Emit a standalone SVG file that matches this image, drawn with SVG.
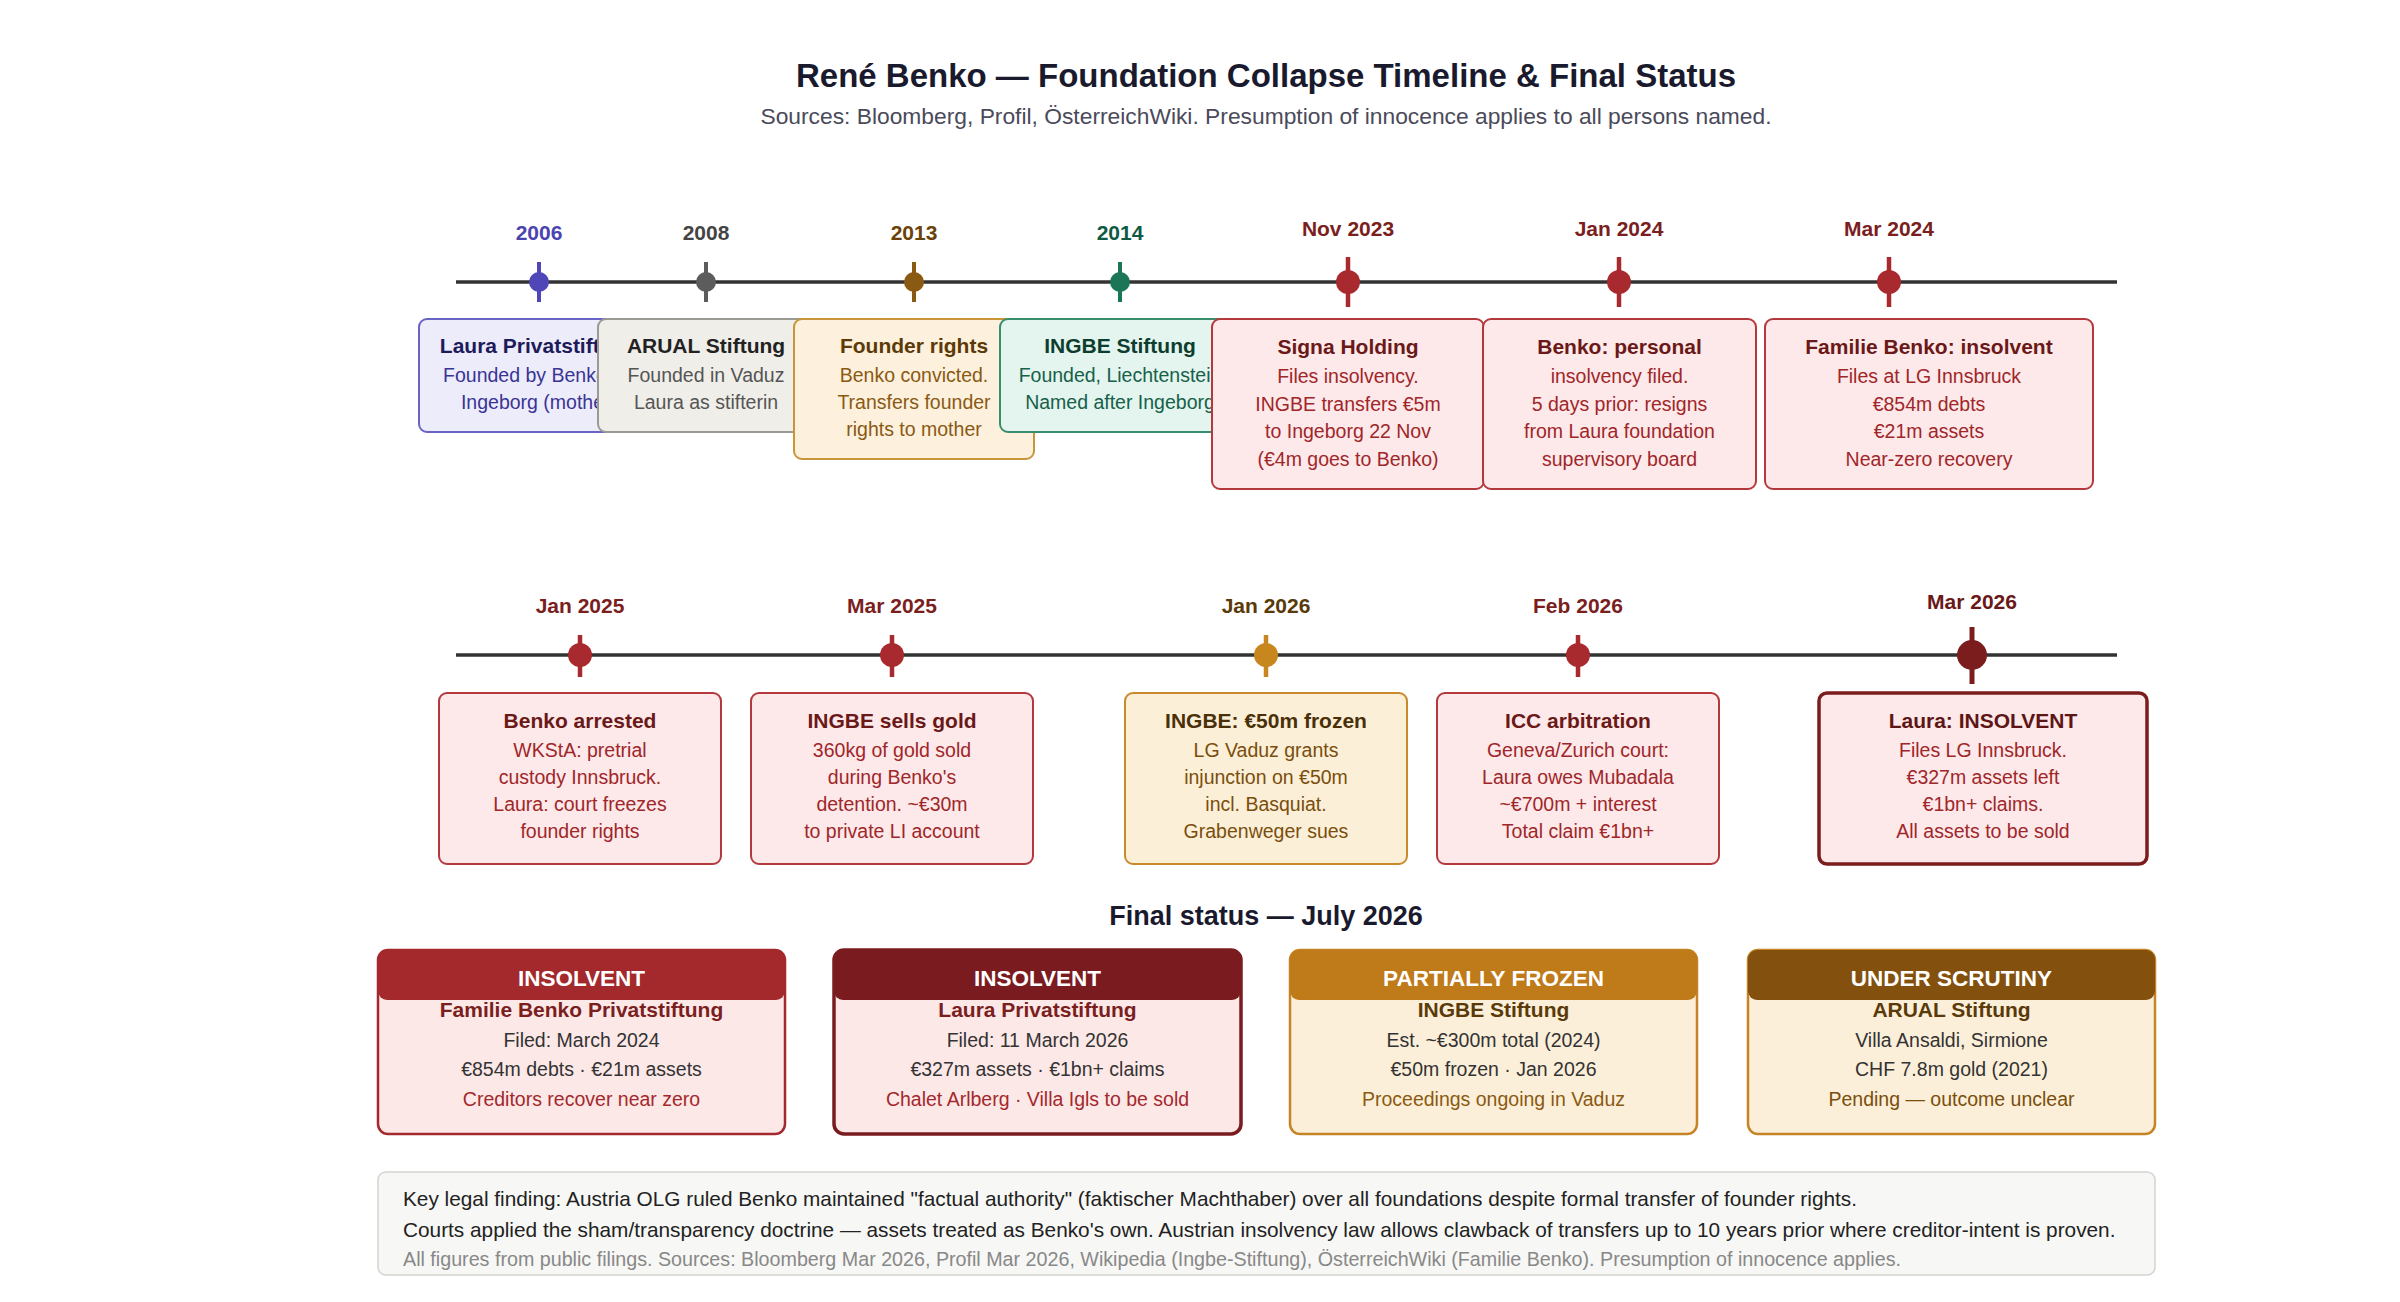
<svg xmlns="http://www.w3.org/2000/svg" width="2400" height="1302" viewBox="0 0 2400 1302">
<style>
text{font-family:"Liberation Sans",Arial,sans-serif}
.c{text-anchor:middle}
.h1{font-size:33px;font-weight:bold;fill:#1a1a2e}
.sub{font-size:22.8px;fill:#4a4a5a}
.yl{font-size:21px;font-weight:bold}
.bt{font-size:21px;font-weight:bold}
.bd{font-size:19.5px}
.hd{font-size:22.5px;font-weight:bold;fill:#fff}
.sec{font-size:27px;font-weight:bold;fill:#1a1a2e}
.axis{stroke:#333;stroke-width:3.5}
.box{stroke-width:2}
.note{font-size:20.8px}
.note3{font-size:19.7px}
</style>
<rect width="2400" height="1302" fill="#fff"/>
<text class="h1 c" x="1266" y="87">René Benko — Foundation Collapse Timeline &amp; Final Status</text>
<text class="sub c" x="1266" y="124">Sources: Bloomberg, Profil, ÖsterreichWiki. Presumption of innocence applies to all persons named.</text>

<g id="connectors">
<line class="axis" x1="456" y1="282" x2="2117" y2="282"/>
<line class="axis" x1="456" y1="655" x2="2117" y2="655"/>
</g>

<!-- Row 1 markers -->
<g id="m2006"><text class="yl c" x="539" y="240" fill="#4b44b0">2006</text><line x1="539" y1="262" x2="539" y2="302" stroke="#4f46b8" stroke-width="4"/><circle cx="539" cy="282" r="10" fill="#4f46b8"/></g>
<g id="m2008"><text class="yl c" x="706" y="240" fill="#444">2008</text><line x1="706" y1="262" x2="706" y2="302" stroke="#5c5c5c" stroke-width="4"/><circle cx="706" cy="282" r="10" fill="#5c5c5c"/></g>
<g id="m2013"><text class="yl c" x="914" y="240" fill="#6b4208">2013</text><line x1="914" y1="262" x2="914" y2="302" stroke="#8b5a12" stroke-width="4"/><circle cx="914" cy="282" r="10" fill="#8b5a12"/></g>
<g id="m2014"><text class="yl c" x="1120" y="240" fill="#0f5a43">2014</text><line x1="1120" y1="262" x2="1120" y2="302" stroke="#1b7557" stroke-width="4"/><circle cx="1120" cy="282" r="10" fill="#1b7557"/></g>
<g id="mNov2023"><text class="yl c" x="1348" y="236" fill="#7a1e1e">Nov 2023</text><line x1="1348" y1="257" x2="1348" y2="307" stroke="#a8292e" stroke-width="4.5"/><circle cx="1348" cy="282" r="12" fill="#a8292e"/></g>
<g id="mJan2024"><text class="yl c" x="1619" y="236" fill="#7a1e1e">Jan 2024</text><line x1="1619" y1="257" x2="1619" y2="307" stroke="#a8292e" stroke-width="4.5"/><circle cx="1619" cy="282" r="12" fill="#a8292e"/></g>
<g id="mMar2024"><text class="yl c" x="1889" y="236" fill="#7a1e1e">Mar 2024</text><line x1="1889" y1="257" x2="1889" y2="307" stroke="#a8292e" stroke-width="4.5"/><circle cx="1889" cy="282" r="12" fill="#a8292e"/></g>

<!-- Row 1 boxes -->
<g id="laura2006">
<rect class="box" x="419" y="319" width="240" height="113" rx="8" fill="#ececfb" stroke="#6a63c6"/>
<text class="bt c" x="539" y="353" fill="#1e1b5a">Laura Privatstiftung</text>
<text class="bd c" x="539" y="382" fill="#3a3494">Founded by Benko for</text>
<text class="bd c" x="539" y="409" fill="#3a3494">Ingeborg (mother)</text>
</g>
<g id="arual2008">
<rect class="box" x="598" y="319" width="216" height="113" rx="8" fill="#f0eee9" stroke="#9a9994"/>
<text class="bt c" x="706" y="353" fill="#222">ARUAL Stiftung</text>
<text class="bd c" x="706" y="382" fill="#555">Founded in Vaduz</text>
<text class="bd c" x="706" y="409" fill="#555">Laura as stifterin</text>
</g>
<g id="founder2013">
<rect class="box" x="794" y="319" width="240" height="140" rx="8" fill="#fdf0dc" stroke="#c9953a"/>
<text class="bt c" x="914" y="353" fill="#5c3a08">Founder rights</text>
<text class="bd c" x="914" y="382" fill="#8a5a14">Benko convicted.</text>
<text class="bd c" x="914" y="409" fill="#8a5a14">Transfers founder</text>
<text class="bd c" x="914" y="436" fill="#8a5a14">rights to mother</text>
</g>
<g id="ingbe2014">
<rect class="box" x="1000" y="319" width="240" height="113" rx="8" fill="#e3f5ee" stroke="#3a8d6c"/>
<text class="bt c" x="1120" y="353" fill="#0d3d2e">INGBE Stiftung</text>
<text class="bd c" x="1120" y="382" fill="#17604a">Founded, Liechtenstein</text>
<text class="bd c" x="1120" y="409" fill="#17604a">Named after Ingeborg</text>
</g>
<g id="signa2023">
<rect class="box" x="1212" y="319" width="272" height="170" rx="8" fill="#fde9e9" stroke="#b3393d"/>
<text class="bt c" x="1348" y="354" fill="#6a1818">Signa Holding</text>
<text class="bd c" x="1348" y="383" fill="#a0262a">Files insolvency.</text>
<text class="bd c" x="1348" y="410.5" fill="#a0262a">INGBE transfers €5m</text>
<text class="bd c" x="1348" y="438" fill="#a0262a">to Ingeborg 22 Nov</text>
<text class="bd c" x="1348" y="465.5" fill="#a0262a">(€4m goes to Benko)</text>
</g>
<g id="benko2024">
<rect class="box" x="1483" y="319" width="273" height="170" rx="8" fill="#fde9e9" stroke="#b3393d"/>
<text class="bt c" x="1619.5" y="354" fill="#6a1818">Benko: personal</text>
<text class="bd c" x="1619.5" y="383" fill="#a0262a">insolvency filed.</text>
<text class="bd c" x="1619.5" y="410.5" fill="#a0262a">5 days prior: resigns</text>
<text class="bd c" x="1619.5" y="438" fill="#a0262a">from Laura foundation</text>
<text class="bd c" x="1619.5" y="465.5" fill="#a0262a">supervisory board</text>
</g>
<g id="familie2024">
<rect class="box" x="1765" y="319" width="328" height="170" rx="8" fill="#fde9e9" stroke="#b3393d"/>
<text class="bt c" x="1929" y="354" fill="#6a1818">Familie Benko: insolvent</text>
<text class="bd c" x="1929" y="383" fill="#a0262a">Files at LG Innsbruck</text>
<text class="bd c" x="1929" y="410.5" fill="#a0262a">€854m debts</text>
<text class="bd c" x="1929" y="438" fill="#a0262a">€21m assets</text>
<text class="bd c" x="1929" y="465.5" fill="#a0262a">Near-zero recovery</text>
</g>

<!-- Row 2 markers -->
<g id="mJan2025"><text class="yl c" x="580" y="613" fill="#7a1e1e">Jan 2025</text><line x1="580" y1="635" x2="580" y2="677" stroke="#a8292e" stroke-width="4.5"/><circle cx="580" cy="655" r="12" fill="#a8292e"/></g>
<g id="mMar2025"><text class="yl c" x="892" y="613" fill="#7a1e1e">Mar 2025</text><line x1="892" y1="635" x2="892" y2="677" stroke="#a8292e" stroke-width="4.5"/><circle cx="892" cy="655" r="12" fill="#a8292e"/></g>
<g id="mJan2026"><text class="yl c" x="1266" y="613" fill="#5a3a08">Jan 2026</text><line x1="1266" y1="635" x2="1266" y2="677" stroke="#c8861e" stroke-width="4.5"/><circle cx="1266" cy="655" r="12" fill="#c8861e"/></g>
<g id="mFeb2026"><text class="yl c" x="1578" y="613" fill="#7a1e1e">Feb 2026</text><line x1="1578" y1="635" x2="1578" y2="677" stroke="#a8292e" stroke-width="4.5"/><circle cx="1578" cy="655" r="12" fill="#a8292e"/></g>
<g id="mMar2026"><text class="yl c" x="1972" y="609" fill="#6a1818">Mar 2026</text><line x1="1972" y1="627" x2="1972" y2="684" stroke="#7b1d1d" stroke-width="5"/><circle cx="1972" cy="655" r="15" fill="#7b1d1d"/></g>

<!-- Row 2 boxes -->
<g id="arrested2025">
<rect class="box" x="439" y="693" width="282" height="171" rx="8" fill="#fde9e9" stroke="#b3393d"/>
<text class="bt c" x="580" y="728" fill="#6a1818">Benko arrested</text>
<text class="bd c" x="580" y="757" fill="#a0262a">WKStA: pretrial</text>
<text class="bd c" x="580" y="784" fill="#a0262a">custody Innsbruck.</text>
<text class="bd c" x="580" y="811" fill="#a0262a">Laura: court freezes</text>
<text class="bd c" x="580" y="838" fill="#a0262a">founder rights</text>
</g>
<g id="gold2025">
<rect class="box" x="751" y="693" width="282" height="171" rx="8" fill="#fde9e9" stroke="#b3393d"/>
<text class="bt c" x="892" y="728" fill="#6a1818">INGBE sells gold</text>
<text class="bd c" x="892" y="757" fill="#a0262a">360kg of gold sold</text>
<text class="bd c" x="892" y="784" fill="#a0262a">during Benko's</text>
<text class="bd c" x="892" y="811" fill="#a0262a">detention. ~€30m</text>
<text class="bd c" x="892" y="838" fill="#a0262a">to private LI account</text>
</g>
<g id="frozen2026">
<rect class="box" x="1125" y="693" width="282" height="171" rx="8" fill="#fcefd8" stroke="#c98a2c"/>
<text class="bt c" x="1266" y="728" fill="#4a3008">INGBE: €50m frozen</text>
<text class="bd c" x="1266" y="757" fill="#7a4e0c">LG Vaduz grants</text>
<text class="bd c" x="1266" y="784" fill="#7a4e0c">injunction on €50m</text>
<text class="bd c" x="1266" y="811" fill="#7a4e0c">incl. Basquiat.</text>
<text class="bd c" x="1266" y="838" fill="#7a4e0c">Grabenweger sues</text>
</g>
<g id="icc2026">
<rect class="box" x="1437" y="693" width="282" height="171" rx="8" fill="#fde9e9" stroke="#b3393d"/>
<text class="bt c" x="1578" y="728" fill="#6a1818">ICC arbitration</text>
<text class="bd c" x="1578" y="757" fill="#a0262a">Geneva/Zurich court:</text>
<text class="bd c" x="1578" y="784" fill="#a0262a">Laura owes Mubadala</text>
<text class="bd c" x="1578" y="811" fill="#a0262a">~€700m + interest</text>
<text class="bd c" x="1578" y="838" fill="#a0262a">Total claim €1bn+</text>
</g>
<g id="laura2026">
<rect x="1819" y="693" width="328" height="171" rx="8" fill="#fde9e9" stroke="#7b1d1d" stroke-width="3.5"/>
<text class="bt c" x="1983" y="728" fill="#5e1515">Laura: INSOLVENT</text>
<text class="bd c" x="1983" y="757" fill="#a0262a">Files LG Innsbruck.</text>
<text class="bd c" x="1983" y="784" fill="#a0262a">€327m assets left</text>
<text class="bd c" x="1983" y="811" fill="#a0262a">€1bn+ claims.</text>
<text class="bd c" x="1983" y="838" fill="#a0262a">All assets to be sold</text>
</g>

<text class="sec c" x="1266" y="925">Final status — July 2026</text>

<g id="card1">
<rect x="378" y="950" width="407" height="184" rx="10" fill="#fde8e8" stroke="#a3292c" stroke-width="2.5"/>
<rect x="378" y="950" width="407" height="50" rx="9" fill="#a3292c"/>
<text class="hd c" x="581.5" y="986">INSOLVENT</text>
<text class="bt c" x="581.5" y="1017" fill="#7a1e1e">Familie Benko Privatstiftung</text>
<text class="bd c" x="581.5" y="1047" fill="#333">Filed: March 2024</text>
<text class="bd c" x="581.5" y="1076" fill="#333">€854m debts · €21m assets</text>
<text class="bd c" x="581.5" y="1106" fill="#a3292c">Creditors recover near zero</text>
</g>
<g id="card2">
<rect x="834" y="950" width="407" height="184" rx="10" fill="#fde8e8" stroke="#7a1c1f" stroke-width="3.5"/>
<rect x="834" y="950" width="407" height="50" rx="9" fill="#7a1c1f"/>
<text class="hd c" x="1037.5" y="986">INSOLVENT</text>
<text class="bt c" x="1037.5" y="1017" fill="#7a1e1e">Laura Privatstiftung</text>
<text class="bd c" x="1037.5" y="1047" fill="#333">Filed: 11 March 2026</text>
<text class="bd c" x="1037.5" y="1076" fill="#333">€327m assets · €1bn+ claims</text>
<text class="bd c" x="1037.5" y="1106" fill="#a3292c">Chalet Arlberg · Villa Igls to be sold</text>
</g>
<g id="card3">
<rect x="1290" y="950" width="407" height="184" rx="10" fill="#fcefd9" stroke="#c58526" stroke-width="2.5"/>
<rect x="1290" y="950" width="407" height="50" rx="9" fill="#bf7a1a"/>
<text class="hd c" x="1493.5" y="986">PARTIALLY FROZEN</text>
<text class="bt c" x="1493.5" y="1017" fill="#5a3a08">INGBE Stiftung</text>
<text class="bd c" x="1493.5" y="1047" fill="#333">Est. ~€300m total (2024)</text>
<text class="bd c" x="1493.5" y="1076" fill="#333">€50m frozen · Jan 2026</text>
<text class="bd c" x="1493.5" y="1106" fill="#8a5a12">Proceedings ongoing in Vaduz</text>
</g>
<g id="card4">
<rect x="1748" y="950" width="407" height="184" rx="10" fill="#fcefd9" stroke="#c58526" stroke-width="2.5"/>
<rect x="1748" y="950" width="407" height="50" rx="9" fill="#84500e"/>
<text class="hd c" x="1951.5" y="986">UNDER SCRUTINY</text>
<text class="bt c" x="1951.5" y="1017" fill="#5a3a08">ARUAL Stiftung</text>
<text class="bd c" x="1951.5" y="1047" fill="#333">Villa Ansaldi, Sirmione</text>
<text class="bd c" x="1951.5" y="1076" fill="#333">CHF 7.8m gold (2021)</text>
<text class="bd c" x="1951.5" y="1106" fill="#7a4e0c">Pending — outcome unclear</text>
</g>

<g id="note">
<rect x="378" y="1172" width="1777" height="103" rx="8" fill="#f7f7f5" stroke="#d4d4d0" stroke-width="1.5"/>
<text class="note" x="403" y="1206" fill="#222">Key legal finding: Austria OLG ruled Benko maintained "factual authority" (faktischer Machthaber) over all foundations despite formal transfer of founder rights.</text>
<text class="note" x="403" y="1237" fill="#222">Courts applied the sham/transparency doctrine — assets treated as Benko's own. Austrian insolvency law allows clawback of transfers up to 10 years prior where creditor-intent is proven.</text>
<text class="note3" x="403" y="1266" fill="#888">All figures from public filings. Sources: Bloomberg Mar 2026, Profil Mar 2026, Wikipedia (Ingbe-Stiftung), ÖsterreichWiki (Familie Benko). Presumption of innocence applies.</text>
</g>
</svg>
